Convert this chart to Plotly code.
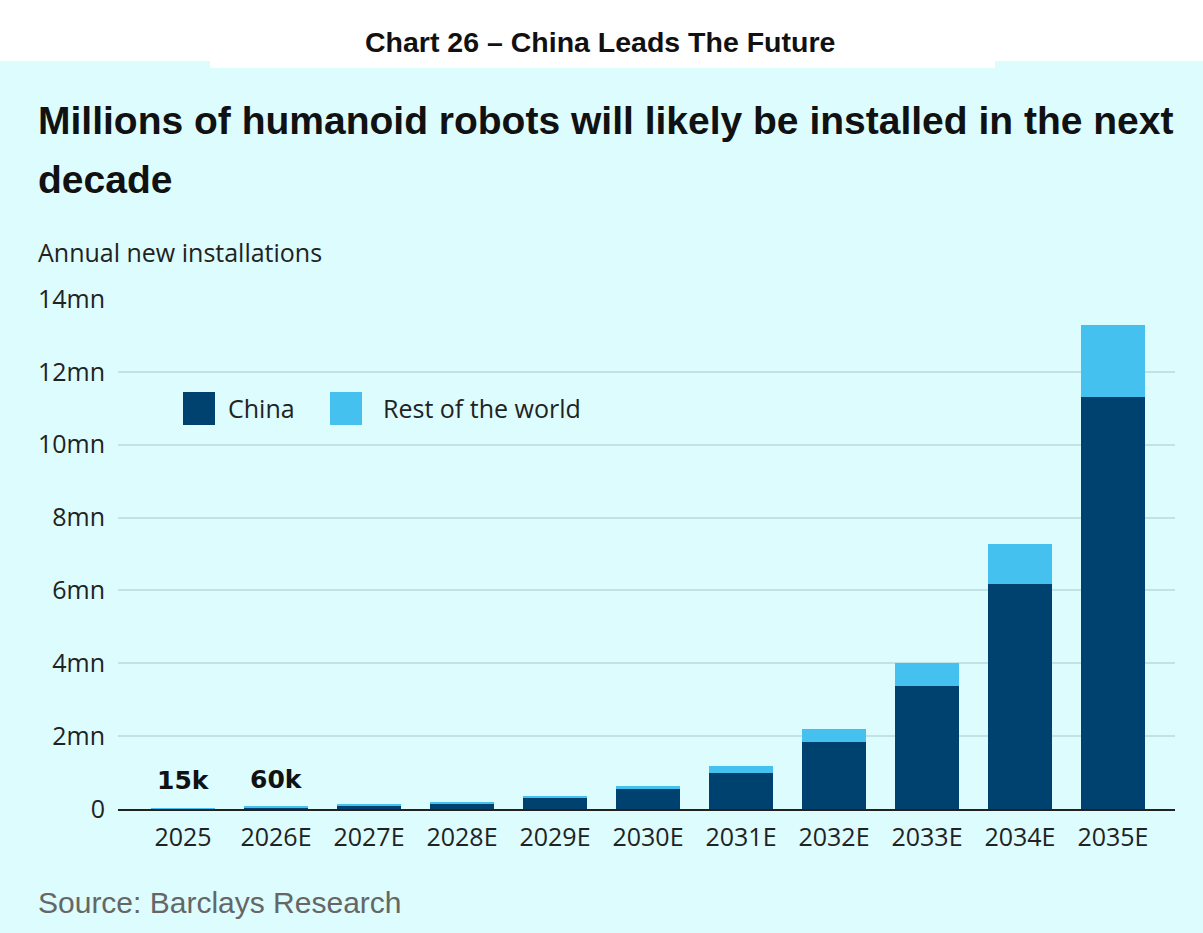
import plotly.graph_objects as go

# annual new installations, millions of units
years = ["2025", "2026E", "2027E", "2028E", "2029E", "2030E",
         "2031E", "2032E", "2033E", "2034E", "2035E"]
china = [0.012, 0.05, 0.09, 0.16, 0.30, 0.54, 1.00, 1.85, 3.37, 6.18, 11.30]
rest_of_world = [0.003, 0.01, 0.02, 0.04, 0.06, 0.10, 0.19, 0.35, 0.63, 1.10, 2.00]
small_labels = {"2025": "15k", "2026E": "60k"}

y_ticks = [0, 2, 4, 6, 8, 10, 12, 14]
y_ticktext = ["0"] + [f"{v}mn" for v in y_ticks[1:]]

W, H = 1203, 933
L, R, T, B = 118, 28, 299, 124
BG = "#dcfcfd"
NAVY = "#00426f"
SKY = "#45c1f0"
BODY_FONT = "Open Sans"


def px(x):
    return (x - L) / (W - L - R)


def py(y):
    return (H - B - y) / (H - T - B)


fig = go.Figure()
fig.add_bar(x=years, y=china, name="China", marker_color=NAVY,
            marker_line_width=0, showlegend=False)
fig.add_bar(x=years, y=rest_of_world, name="Rest of the world",
            marker_color=SKY, marker_line_width=0, showlegend=False)

totals = [c + r for c, r in zip(china, rest_of_world)]
for i, (yr, tot) in enumerate(zip(years, totals)):
    if yr in small_labels:
        fig.add_annotation(x=i, y=tot, text=f"<b>{small_labels[yr]}</b>",
                           showarrow=False, yanchor="bottom", yshift=11,
                           font=dict(family="DejaVu Sans", size=25, color="#111"))

annots = [
    dict(x=px(600), y=py(42), text="<b>Chart 26 – China Leads The Future</b>",
         xanchor="center", font=dict(family="Liberation Sans", size=28.5, color="#111")),
    dict(x=px(36), y=py(121),
         text="<b>Millions of humanoid robots will likely be installed in the next</b>",
         xanchor="left", font=dict(family="Liberation Sans", size=39, color="#111")),
    dict(x=px(36), y=py(180), text="<b>decade</b>",
         xanchor="left", font=dict(family="Liberation Sans", size=39, color="#111")),
    dict(x=px(36), y=py(252), text="Annual new installations",
         xanchor="left", font=dict(family=BODY_FONT, size=25, color="#222")),
    dict(x=px(36), y=py(902), text="Source: Barclays Research",
         xanchor="left", font=dict(family="Liberation Sans", size=30, color="#666")),
    dict(x=px(226), y=py(408), text="China",
         xanchor="left", font=dict(family=BODY_FONT, size=25, color="#222")),
    dict(x=px(381), y=py(408), text="Rest of the world",
         xanchor="left", font=dict(family=BODY_FONT, size=25, color="#222")),
]
for a in annots:
    fig.add_annotation(xref="paper", yref="paper", showarrow=False,
                       yanchor="middle", **a)

shapes = [
    # white header band
    dict(type="rect", x0=px(0), x1=px(W), y0=py(0), y1=py(61),
         fillcolor="white", line_width=0, layer="below"),
    dict(type="rect", x0=px(210), x1=px(995), y0=py(60), y1=py(68),
         fillcolor="white", line_width=0, layer="below"),
    # legend swatches
    dict(type="rect", x0=px(183), x1=px(215), y0=py(392), y1=py(425),
         fillcolor=NAVY, line_width=0),
    dict(type="rect", x0=px(330), x1=px(362), y0=py(392), y1=py(425),
         fillcolor=SKY, line_width=0),
]
for s in shapes:
    fig.add_shape(xref="paper", yref="paper", **s)

fig.update_layout(
    width=W, height=H,
    margin=dict(l=L, r=R, t=T, b=B),
    barmode="stack", bargap=0.32,
    paper_bgcolor=BG, plot_bgcolor=BG,
    showlegend=False,
)
fig.update_xaxes(
    type="category", range=[-0.699, 10.667], showgrid=False,
    showline=True, linecolor="#222", linewidth=2,
    ticks="outside", ticklen=5, tickcolor="rgba(0,0,0,0)",
    tickfont=dict(family=BODY_FONT, size=25, color="#222"),
)
fig.update_yaxes(
    range=[0, 14], tickvals=y_ticks, ticktext=y_ticktext,
    showgrid=True, gridcolor="#c3e2e5", gridwidth=1.5, zeroline=False,
    ticks="outside", ticklen=7, tickcolor="rgba(0,0,0,0)",
    tickfont=dict(family=BODY_FONT, size=25, color="#222"),
)

fig.write_html("out.html", config={"displayModeBar": False},
               post_script="document.body.style.margin='0';")
